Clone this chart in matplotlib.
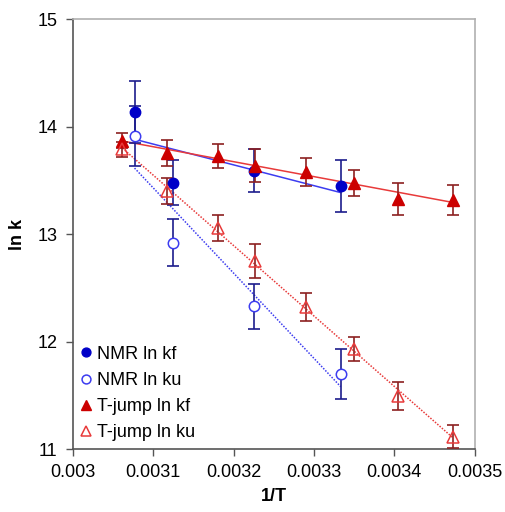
import numpy as np
import matplotlib
matplotlib.use('Agg')
import matplotlib.pyplot as plt

plt.rcParams['font.family'] = ['Liberation Sans', 'DejaVu Sans']

# NMR data (1/T, ln k, error)
nmr_x = [0.0030769, 0.0031250, 0.0032258, 0.0033333]
nmr_kf = [14.14, 13.48, 13.59, 13.45]
nmr_kf_err = [0.29, 0.21, 0.20, 0.24]
nmr_ku = [13.915, 12.92, 12.33, 11.70]
nmr_ku_err = [0.28, 0.22, 0.21, 0.23]

# T-jump data
tj_x = [0.0030618, 0.0031167, 0.0031806, 0.0032270, 0.0032902, 0.0033494, 0.0034051, 0.0034732]
tj_kf = [13.87, 13.76, 13.73, 13.64, 13.58, 13.475, 13.33, 13.32]
tj_kf_err = [0.07, 0.12, 0.11, 0.15, 0.13, 0.12, 0.15, 0.14]
tj_ku = [13.79, 13.40, 13.06, 12.75, 12.32, 11.93, 11.49, 11.115]
tj_ku_err = [0.07, 0.12, 0.12, 0.16, 0.13, 0.11, 0.13, 0.11]

blue = '#0000c8'
lblue = '#3c3cf0'
eblue = '#1c1c8c'
red = '#cc0000'
lred = '#e83a3a'
ered = '#8c2020'

fig = plt.figure(figsize=(5.05, 5.12), dpi=100)
ax = fig.add_axes([0.144, 0.123, 0.796, 0.839])

# trend lines (linear fits over each series' range)
def trend(x, y, color, ls):
    x = np.array(x)
    p = np.polyfit(x, y, 1)
    xs = np.array([x.min(), x.max()])
    ax.plot(xs, np.polyval(p, xs), color=color, ls=ls, lw=1.1, zorder=2)

trend(nmr_x, nmr_kf, lblue, '-')
trend(tj_x, tj_kf, lred, '-')
trend(nmr_x, nmr_ku, lblue, (0, (1, 1)))
trend(tj_x, tj_ku, lred, (0, (1, 1)))

# error bars
eb = dict(fmt='none', elinewidth=1.2, capsize=4.5, capthick=1.2, zorder=3)
ax.errorbar(nmr_x, nmr_kf, yerr=nmr_kf_err, ecolor=eblue, **eb)
ax.errorbar(nmr_x, nmr_ku, yerr=nmr_ku_err, ecolor=eblue, **eb)
ax.errorbar(tj_x, tj_kf, yerr=tj_kf_err, ecolor=ered, **eb)
ax.errorbar(tj_x, tj_ku, yerr=tj_ku_err, ecolor=ered, **eb)

# markers
ax.plot(nmr_x, nmr_kf, 'o', ms=7.5, color=blue, ls='none', label='NMR ln kf', zorder=4)
ax.plot(nmr_x, nmr_ku, 'o', ms=7.5, mfc='white', mec=lblue, mew=1.1, ls='none', label='NMR ln ku', zorder=4)
ax.plot(tj_x, tj_kf, '^', ms=8, color=red, ls='none', label='T-jump ln kf', zorder=4)
ax.plot(tj_x, tj_ku, '^', ms=8, mfc='none', mec=lred, mew=1.1, ls='none', label='T-jump ln ku', zorder=4)

ax.set_xlim(0.003, 0.0035)
ax.set_ylim(11, 15)
ax.set_xticks([0.003, 0.0031, 0.0032, 0.0033, 0.0034, 0.0035])
ax.set_xticklabels(['0.003', '0.0031', '0.0032', '0.0033', '0.0034', '0.0035'])
ax.set_yticks([11, 12, 13, 14, 15])
ax.tick_params(direction='out', length=5, width=1, color='#555555', labelsize=13, pad=6)

for s in ['left', 'bottom']:
    ax.spines[s].set_color('#555555')
    ax.spines[s].set_linewidth(1.2)
for s in ['top', 'right']:
    ax.spines[s].set_color('#b0b0b0')
    ax.spines[s].set_linewidth(1.2)

ax.set_xlabel('1/T', fontsize=13, fontweight='bold', labelpad=5)
ax.set_ylabel('ln k', fontsize=13, fontweight='bold', labelpad=8)

ax.legend(loc='lower left', frameon=False, fontsize=13, handlelength=0.6, markerscale=0.85,
          handletextpad=0.3, labelspacing=0.5, borderaxespad=0.15, borderpad=0.3)

fig.savefig('out.png', dpi=100)
